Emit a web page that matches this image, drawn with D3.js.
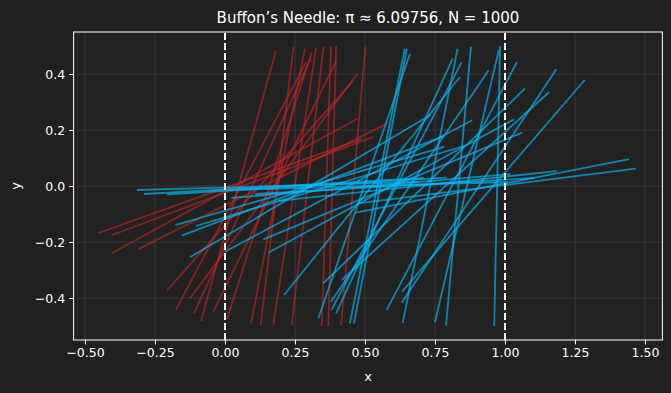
<!DOCTYPE html>
<html>
<head>
<meta charset="utf-8">
<script src="https://cdn.jsdelivr.net/npm/d3@7"></script>
<style>
html,body{margin:0;padding:0;background:#212121;}
svg{display:block;}
text{font-family:"DejaVu Sans",sans-serif;fill:#ffffff;}
</style>
</head>
<body>
<svg id="chart" width="671" height="393"></svg>
<script>
// Needle data: centre x (needle centres lie on y = 0), angle in degrees, length 1
const redCenters = [0.018,0.063,0.034,0.137,0.124,0.057,0.174,0.0975,0.048,0.178,0.158,0.189,0.186,0.249,0.295,0.362,0.383,0.458];
const redAngles  = [19.7,20.6,28.7,26.8,48.4,62.3,53.3,65.4,74.5,63.9,72.4,78.9,83.3,81.2,83.5,88.1,88.4,85.0];

const blueCenters = [0.497,0.711,0.525,0.599,0.594,0.441,0.660,0.613,0.605,0.7875,0.544,0.555,0.810,0.907,0.7325,0.864,0.834,0.972,0.958,
                     0.303,0.375,0.313,0.305,0.185,0.210,0.607,0.687,0.953,0.971,0.292,0.511,0.521];
const blueAngles  = [70.9,44.0,51.1,22.4,28.5,28.0,55.7,62.3,65.4,42.2,78.7,79.1,62.3,56.5,78.7,76.8,84.9,88.8,49.2,
                     16.2,16.6,20.8,30.6,1.64,3.28,3.27,6.14,11.1,7.1,3.4,1.64,4.9];

const needleLength = 1;
const gridLinesX = [0, 1];
const xTicks = [-0.5,-0.25,0,0.25,0.5,0.75,1.0,1.25,1.5];
const yTicks = [-0.4,-0.2,0,0.2,0.4];
const xLimits = [-0.5407, 1.5621];
const yLimits = [-0.55, 0.55];
const title = "Buffon\u2019s Needle: \u03c0 \u2248 6.09756, N = 1000";

const W = 671, H = 393;
const margin = {left:73.6, right:W-662.4, top:32, bottom:H-340};
const svg = d3.select("#chart");
const x = d3.scaleLinear().domain(xLimits).range([margin.left, W-margin.right]);
const y = d3.scaleLinear().domain(yLimits).range([H-margin.bottom, margin.top]);

svg.append("rect").attr("width",W).attr("height",H).attr("fill","#212121");
svg.append("rect").attr("x",x(xLimits[0])).attr("y",y(yLimits[1]))
  .attr("width",x(xLimits[1])-x(xLimits[0])).attr("height",y(yLimits[0])-y(yLimits[1]))
  .attr("fill","#222222");

// grid
const g = svg.append("g");
g.selectAll(".gx").data(xTicks).enter().append("line")
  .attr("x1",d=>x(d)).attr("x2",d=>x(d)).attr("y1",y(yLimits[0])).attr("y2",y(yLimits[1]))
  .attr("stroke","#ffffff").attr("stroke-opacity",0.12).attr("stroke-width",0.8);
g.selectAll(".gy").data(yTicks).enter().append("line")
  .attr("x1",x(xLimits[0])).attr("x2",x(xLimits[1])).attr("y1",d=>y(d)).attr("y2",d=>y(d))
  .attr("stroke","#ffffff").attr("stroke-opacity",0.12).attr("stroke-width",0.8);

function needles(centers, angles){
  return centers.map((c,i)=>{
    const a = angles[i]*Math.PI/180;
    const dx = needleLength/2*Math.cos(a), dy = needleLength/2*Math.sin(a);
    return {x1:c-dx, y1:-dy, x2:c+dx, y2:dy};
  });
}
const clipId = "clipArea";
svg.append("clipPath").attr("id",clipId).append("rect")
  .attr("x",x(xLimits[0])).attr("y",y(yLimits[1]))
  .attr("width",x(xLimits[1])-x(xLimits[0])).attr("height",y(yLimits[0])-y(yLimits[1]));
const plot = svg.append("g").attr("clip-path","url(#"+clipId+")");

plot.selectAll(".red").data(needles(redCenters, redAngles)).enter().append("line")
  .attr("x1",d=>x(d.x1)).attr("y1",d=>y(d.y1)).attr("x2",d=>x(d.x2)).attr("y2",d=>y(d.y2))
  .attr("stroke","rgb(200,38,38)").attr("stroke-opacity",0.6).attr("stroke-width",1.8);
plot.selectAll(".blue").data(needles(blueCenters, blueAngles)).enter().append("line")
  .attr("x1",d=>x(d.x1)).attr("y1",d=>y(d.y1)).attr("x2",d=>x(d.x2)).attr("y2",d=>y(d.y2))
  .attr("stroke","#00bfff").attr("stroke-opacity",0.65).attr("stroke-width",1.8);

plot.selectAll(".vl").data(gridLinesX).enter().append("line")
  .attr("x1",d=>x(d)).attr("x2",d=>x(d)).attr("y1",y(yLimits[0])).attr("y2",y(yLimits[1]))
  .attr("stroke","#ffffff").attr("stroke-width",2).attr("stroke-dasharray","7,3");

// axes
const fmtX = d=>d3.format(".2f")(d).replace("-","\u2212");
const fmtY = d=>d3.format(".1f")(d).replace("-","\u2212");
const xAxis = svg.append("g").attr("transform",`translate(0,${y(yLimits[0])})`)
  .call(d3.axisBottom(x).tickValues(xTicks).tickFormat(fmtX).tickSize(4.5).tickPadding(4));
const yAxis = svg.append("g").attr("transform",`translate(${x(xLimits[0])},0)`)
  .call(d3.axisLeft(y).tickValues(yTicks).tickFormat(fmtY).tickSize(4.5).tickPadding(4));
[xAxis,yAxis].forEach(a=>{
  a.select(".domain").remove();
  a.selectAll(".tick line").attr("stroke","#ffffff").attr("stroke-width",1);
  a.selectAll(".tick text").attr("fill","#ffffff").style("font-size","12.5px").style("font-family","DejaVu Sans");
});
// spines
svg.append("rect").attr("x",x(xLimits[0])).attr("y",y(yLimits[1]))
  .attr("width",x(xLimits[1])-x(xLimits[0])).attr("height",y(yLimits[0])-y(yLimits[1]))
  .attr("fill","none").attr("stroke","#ffffff").attr("stroke-width",1);

svg.append("text").attr("x",(x(xLimits[0])+x(xLimits[1]))/2).attr("y",23)
  .attr("text-anchor","middle").style("font-size","15px").text(title);
svg.append("text").attr("x",(x(xLimits[0])+x(xLimits[1]))/2).attr("y",381)
  .attr("text-anchor","middle").style("font-size","13px").text("x");
svg.append("text").attr("transform",`translate(20,${y(0)}) rotate(-90)`)
  .attr("text-anchor","middle").style("font-size","13px").text("y");
</script>
</body>
</html>
